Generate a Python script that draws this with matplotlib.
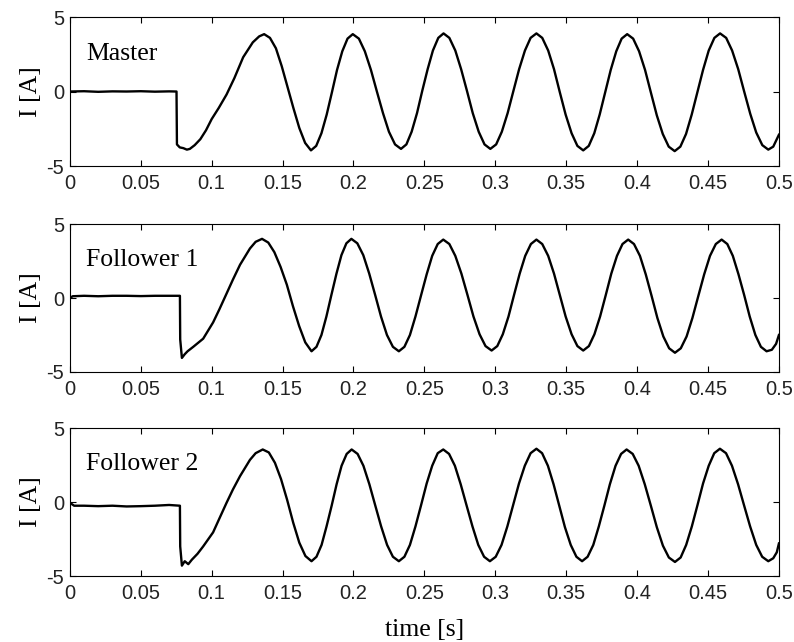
import matplotlib
matplotlib.use("Agg")
import matplotlib.pyplot as plt
from matplotlib.ticker import FormatStrFormatter

plt.rcParams["axes.unicode_minus"] = False

# ---------------------------------------------------------------------------
# Data (time in s, current in A)
# ---------------------------------------------------------------------------

master_t = [
    0.0, 0.010, 0.020, 0.030, 0.040, 0.050, 0.060, 0.070, 0.0752,
    0.0755, 0.0775, 0.0800, 0.0825, 0.0846, 0.0880, 0.0920, 0.0960, 0.1000,
    0.1050, 0.1105, 0.1160, 0.1222, 0.1290, 0.1335, 0.1370,
    0.1411, 0.1453, 0.1494, 0.1535, 0.1576, 0.1618, 0.1659, 0.1700,
    0.1737, 0.1774, 0.1811, 0.1848, 0.1884, 0.1921, 0.1958, 0.1995,
    0.2038, 0.2080, 0.2123, 0.2165, 0.2208, 0.2250, 0.2293, 0.2335,
    0.2373, 0.2410, 0.2448, 0.2485, 0.2523, 0.2560, 0.2598, 0.2635,
    0.2676, 0.2718, 0.2759, 0.2800, 0.2841, 0.2883, 0.2924, 0.2965,
    0.3006, 0.3046, 0.3087, 0.3128, 0.3168, 0.3209, 0.3249, 0.3290,
    0.3331, 0.3373, 0.3414, 0.3455, 0.3496, 0.3538, 0.3579, 0.3620,
    0.3659, 0.3698, 0.3736, 0.3775, 0.3814, 0.3853, 0.3891, 0.3930,
    0.3972, 0.4014, 0.4056, 0.4098, 0.4139, 0.4181, 0.4223, 0.4265,
    0.4305, 0.4345, 0.4385, 0.4425, 0.4465, 0.4505, 0.4545, 0.4585,
    0.4628, 0.4670, 0.4713, 0.4755, 0.4798, 0.4840, 0.4883, 0.4925,
    0.4960, 0.5000,
]
master_i = [
    0.0, 0.02, -0.02, 0.01, 0.0, 0.02, -0.01, 0.01, 0.0,
    -3.55, -3.75, -3.8, -3.9, -3.85, -3.6, -3.2, -2.6, -1.85,
    -1.1, -0.2, 0.9, 2.3, 3.3, 3.7, 3.85,
    3.6, 2.9, 1.7, 0.3, -1.1, -2.45, -3.45, -3.95,
    -3.65, -2.8, -1.55, -0.05, 1.45, 2.7, 3.55, 3.85,
    3.55, 2.7, 1.45, 0.0, -1.45, -2.7, -3.55, -3.85,
    -3.55, -2.7, -1.45, 0.05, 1.5, 2.75, 3.6, 3.9,
    3.6, 2.75, 1.5, 0.05, -1.45, -2.7, -3.55, -3.85,
    -3.55, -2.7, -1.45, 0.05, 1.5, 2.75, 3.6, 3.9,
    3.6, 2.75, 1.5, -0.05, -1.55, -2.8, -3.65, -3.95,
    -3.65, -2.8, -1.55, -0.05, 1.45, 2.7, 3.55, 3.85,
    3.55, 2.7, 1.45, -0.1, -1.6, -2.85, -3.7, -4.0,
    -3.7, -2.85, -1.55, -0.05, 1.45, 2.75, 3.6, 3.9,
    3.6, 2.75, 1.5, 0.0, -1.5, -2.75, -3.6, -3.9,
    -3.7, -2.9,
]

follower1_t = [
    0.0, 0.002, 0.010, 0.020, 0.030, 0.040, 0.050, 0.060, 0.070, 0.0776,
    0.0778, 0.0790, 0.0810, 0.0830, 0.0870, 0.0940, 0.1010, 0.1055, 0.1105,
    0.1150, 0.1200, 0.1270, 0.1310, 0.1355,
    0.1399, 0.1442, 0.1486, 0.1530, 0.1573, 0.1617, 0.1660, 0.1704,
    0.1739, 0.1774, 0.1809, 0.1844, 0.1880, 0.1915, 0.1950, 0.1985,
    0.2027, 0.2069, 0.2111, 0.2153, 0.2194, 0.2236, 0.2278, 0.2320,
    0.2359, 0.2398, 0.2437, 0.2477, 0.2516, 0.2555, 0.2594, 0.2633,
    0.2676, 0.2718, 0.2761, 0.2804, 0.2846, 0.2889, 0.2931, 0.2974,
    0.3014, 0.3053, 0.3093, 0.3132, 0.3172, 0.3211, 0.3251, 0.3290,
    0.3331, 0.3373, 0.3414, 0.3455, 0.3496, 0.3538, 0.3579, 0.3620,
    0.3660, 0.3699, 0.3739, 0.3779, 0.3818, 0.3858, 0.3897, 0.3937,
    0.3978, 0.4020, 0.4061, 0.4102, 0.4143, 0.4185, 0.4226, 0.4267,
    0.4308, 0.4349, 0.4390, 0.4432, 0.4473, 0.4514, 0.4555, 0.4596,
    0.4636, 0.4675, 0.4715, 0.4755, 0.4794, 0.4834, 0.4873, 0.4913,
    0.4950, 0.4980, 0.5000,
]
follower1_i = [
    0.0, 0.12, 0.15, 0.12, 0.15, 0.15, 0.13, 0.15, 0.15, 0.15,
    -2.8, -4.05, -3.8, -3.6, -3.3, -2.75, -1.65, -0.75, 0.3,
    1.25, 2.25, 3.35, 3.8, 4.0,
    3.75, 3.1, 2.1, 0.9, -0.55, -1.9, -3.0, -3.6,
    -3.3, -2.5, -1.25, 0.2, 1.65, 2.9, 3.7, 4.0,
    3.7, 2.9, 1.65, 0.2, -1.25, -2.5, -3.3, -3.6,
    -3.3, -2.5, -1.25, 0.2, 1.6, 2.85, 3.65, 3.95,
    3.65, 2.85, 1.65, 0.2, -1.25, -2.45, -3.25, -3.55,
    -3.25, -2.45, -1.25, 0.2, 1.65, 2.85, 3.65, 3.95,
    3.65, 2.85, 1.65, 0.2, -1.25, -2.45, -3.25, -3.55,
    -3.25, -2.45, -1.25, 0.2, 1.65, 2.85, 3.65, 3.95,
    3.65, 2.85, 1.6, 0.15, -1.35, -2.6, -3.4, -3.7,
    -3.4, -2.6, -1.35, 0.15, 1.6, 2.85, 3.65, 3.95,
    3.65, 2.85, 1.6, 0.2, -1.25, -2.5, -3.3, -3.6,
    -3.5, -3.1, -2.5,
]

follower2_t = [
    0.0, 0.003, 0.010, 0.020, 0.030, 0.040, 0.050, 0.060, 0.070, 0.0776,
    0.0778, 0.0790, 0.0810, 0.0835, 0.0860, 0.0900, 0.0940, 0.1010, 0.1055,
    0.1105, 0.1150, 0.1200, 0.1270, 0.1310, 0.1360,
    0.1403, 0.1446, 0.1489, 0.1532, 0.1575, 0.1618, 0.1661, 0.1704,
    0.1739, 0.1775, 0.1810, 0.1846, 0.1881, 0.1916, 0.1952, 0.1987,
    0.2029, 0.2070, 0.2112, 0.2154, 0.2195, 0.2237, 0.2278, 0.2320,
    0.2359, 0.2398, 0.2437, 0.2477, 0.2516, 0.2555, 0.2594, 0.2633,
    0.2674, 0.2715, 0.2756, 0.2798, 0.2839, 0.2880, 0.2921, 0.2962,
    0.3003, 0.3044, 0.3085, 0.3126, 0.3167, 0.3208, 0.3249, 0.3290,
    0.3330, 0.3371, 0.3411, 0.3451, 0.3491, 0.3532, 0.3572, 0.3612,
    0.3651, 0.3691, 0.3730, 0.3769, 0.3808, 0.3848, 0.3887, 0.3926,
    0.3969, 0.4011, 0.4054, 0.4097, 0.4139, 0.4182, 0.4224, 0.4267,
    0.4307, 0.4346, 0.4386, 0.4426, 0.4465, 0.4505, 0.4544, 0.4584,
    0.4627, 0.4669, 0.4712, 0.4755, 0.4797, 0.4840, 0.4882, 0.4925,
    0.4960, 0.4985, 0.5000,
]
follower2_i = [
    -0.05, -0.25, -0.25, -0.28, -0.25, -0.3, -0.28, -0.25, -0.2, -0.25,
    -3.0, -4.3, -4.0, -4.2, -3.9, -3.5, -3.0, -2.05, -1.1,
    -0.05, 0.85, 1.75, 2.85, 3.3, 3.55,
    3.35, 2.65, 1.55, 0.15, -1.4, -2.75, -3.65, -4.0,
    -3.7, -2.9, -1.65, -0.25, 1.2, 2.45, 3.25, 3.55,
    3.25, 2.45, 1.2, -0.25, -1.65, -2.9, -3.7, -4.0,
    -3.7, -2.9, -1.65, -0.2, 1.25, 2.45, 3.3, 3.55,
    3.25, 2.45, 1.2, -0.25, -1.65, -2.9, -3.7, -4.0,
    -3.7, -2.9, -1.65, -0.2, 1.25, 2.45, 3.3, 3.6,
    3.3, 2.45, 1.2, -0.25, -1.7, -2.9, -3.7, -4.0,
    -3.7, -2.9, -1.65, -0.25, 1.2, 2.45, 3.25, 3.55,
    3.25, 2.45, 1.2, -0.25, -1.7, -2.95, -3.75, -4.05,
    -3.75, -2.9, -1.65, -0.2, 1.25, 2.45, 3.3, 3.6,
    3.3, 2.45, 1.2, -0.25, -1.65, -2.9, -3.7, -4.0,
    -3.8, -3.4, -2.8,
]

names = ["Master", "Follower 1", "Follower 2"]
x_ticks = [0, 0.05, 0.1, 0.15, 0.2, 0.25, 0.3, 0.35, 0.4, 0.45, 0.5]
y_ticks = [-5, 0, 5]

# ---------------------------------------------------------------------------
# Figure
# ---------------------------------------------------------------------------

SANS = ["Liberation Sans", "DejaVu Sans"]
SERIF = ["Liberation Serif", "DejaVu Serif"]

fig = plt.figure(figsize=(7.94, 6.42), dpi=100)

# axes boxes in figure fractions [left, bottom, width, height]
boxes = [
    [0.088, 0.7414, 0.893, 0.2321],
    [0.088, 0.4206, 0.893, 0.2304],
    [0.088, 0.1028, 0.893, 0.2305],
]
series = [
    (master_t, master_i),
    (follower1_t, follower1_i),
    (follower2_t, follower2_i),
]

for k, (box, (t, i), name) in enumerate(zip(boxes, series, names)):
    ax = fig.add_axes(box)
    ax.plot(t, i, color="black", lw=1.7, solid_joinstyle="round")
    ax.set_xlim(0, 0.5)
    ax.set_ylim(-5, 5)
    ax.set_xticks(x_ticks)
    ax.set_yticks(y_ticks)
    ax.xaxis.set_major_formatter(FormatStrFormatter("%g"))
    ax.yaxis.set_major_formatter(FormatStrFormatter("%g"))
    ax.tick_params(direction="in", length=4.5, width=0.8,
                   top=True, right=True, labelsize=14.5)
    ax.tick_params(axis="x", pad=6)
    ax.tick_params(axis="y", pad=4)
    for lab in ax.get_xticklabels() + ax.get_yticklabels():
        lab.set_family(SANS)
        lab.set_color("#222222")
    for sp in ax.spines.values():
        sp.set_linewidth(0.8)
    ax.set_ylabel("I [A]", family=SERIF, fontsize=18.5, labelpad=3)
    ax.text(0.0115, 2.55, name, family=SERIF, fontsize=18.5,
            ha="left", va="center")
    if k == 2:
        ax.set_xlabel("time [s]", family=SERIF, fontsize=18.5)
        ax.xaxis.set_label_coords(0.5, -0.29)
        ax.xaxis.label.set_va("top")

fig.savefig("out.png", dpi=100)
